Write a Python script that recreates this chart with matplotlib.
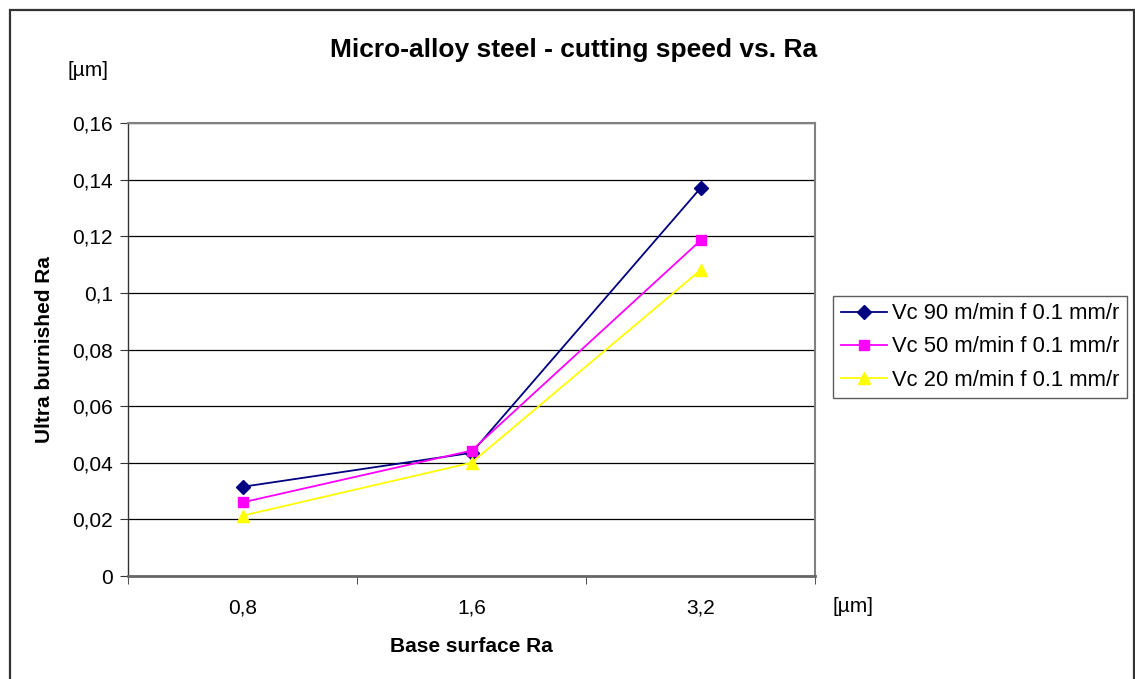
import matplotlib
matplotlib.use("Agg")
import matplotlib.pyplot as plt
from matplotlib.patches import Rectangle

plt.rcParams['font.family'] = ['Liberation Sans', 'DejaVu Sans']

# data
base_ra = ["0,8", "1,6", "3,2"]
vc90 = [0.0315, 0.0435, 0.137]
vc50 = [0.026, 0.0443, 0.1185]
vc20 = [0.0213, 0.040, 0.108]
labels = ["Vc 90 m/min f 0.1 mm/r", "Vc 50 m/min f 0.1 mm/r", "Vc 20 m/min f 0.1 mm/r"]
y_ticks = [0, 0.02, 0.04, 0.06, 0.08, 0.1, 0.12, 0.14, 0.16]
y_tick_labels = ["0", "0,02", "0,04", "0,06", "0,08", "0,1", "0,12", "0,14", "0,16"]

W, H = 1135, 679
FS = 15
fig = plt.figure(figsize=(W / 100, H / 100), dpi=100)

# outer chart frame
fig.patches.append(Rectangle((10 / W, -0.05), 1124 / W, 1.05 - 10 / H,
                             transform=fig.transFigure, fill=False,
                             edgecolor='#333333', linewidth=1.6))

ax = fig.add_axes([128 / W, 1 - 576 / H, 687 / W, 453 / H])

x = range(len(base_ra))
ax.plot(x, vc90, color='#000080', marker='D', markersize=7, linewidth=1.3, label=labels[0])
ax.plot(x, vc50, color='#FF00FF', marker='s', markersize=7, linewidth=1.3, label=labels[1])
ax.plot(x, vc20, color='#FFFF00', marker='^', markersize=9, linewidth=1.3, label=labels[2])

ax.set_xlim(-0.5, 2.5)
ax.set_ylim(0, 0.16)
ax.set_yticks(y_ticks)
ax.set_yticklabels(y_tick_labels, fontsize=FS)
ax.set_xticks(list(x))
ax.set_xticklabels(base_ra, fontsize=FS)
ax.set_xticks([-0.5, 0.5, 1.5, 2.5], minor=True)
ax.tick_params(axis='x', which='major', length=0, pad=16)
ax.tick_params(axis='x', which='minor', length=6, direction='out', color='#333333')
ax.tick_params(axis='y', length=6, direction='out', color='#333333', pad=5)

ax.yaxis.grid(True, color='black', linewidth=0.9)
ax.set_axisbelow(True)
for side in ['top', 'right']:
    ax.spines[side].set_color('#808080')
    ax.spines[side].set_linewidth(1.5)
ax.spines['left'].set_color('#333333')
ax.spines['left'].set_linewidth(1.0)
ax.spines['bottom'].set_color('#666666')
ax.spines['bottom'].set_linewidth(2.0)

fig.text(574 / W, 1 - 50 / H, "Micro-alloy steel - cutting speed vs. Ra",
         ha='center', va='center', fontsize=19, fontweight='bold')
fig.text(88 / W, 1 - 70 / H, "[µm]", ha='center', va='center', fontsize=FS)
fig.text(853 / W, 1 - 607 / H, "[µm]", ha='center', va='center', fontsize=FS)
fig.text(471 / W, 1 - 646 / H, "Base surface Ra", ha='center', va='center',
         fontsize=FS, fontweight='bold')
fig.text(45 / W, 1 - 350 / H, "Ultra burnished Ra", ha='center', va='center',
         rotation=90, fontsize=FS, fontweight='bold')

leg = fig.legend(loc='center left', bbox_to_anchor=(833 / W, 1 - 347 / H),
                 fontsize=15.8, frameon=True, fancybox=False, borderpad=0.35,
                 handlelength=2.1, handletextpad=0.25, labelspacing=0.55,
                 borderaxespad=0)
leg.get_frame().set_edgecolor('#333333')
leg.get_frame().set_linewidth(1.0)

fig.savefig("out.png", dpi=100)
